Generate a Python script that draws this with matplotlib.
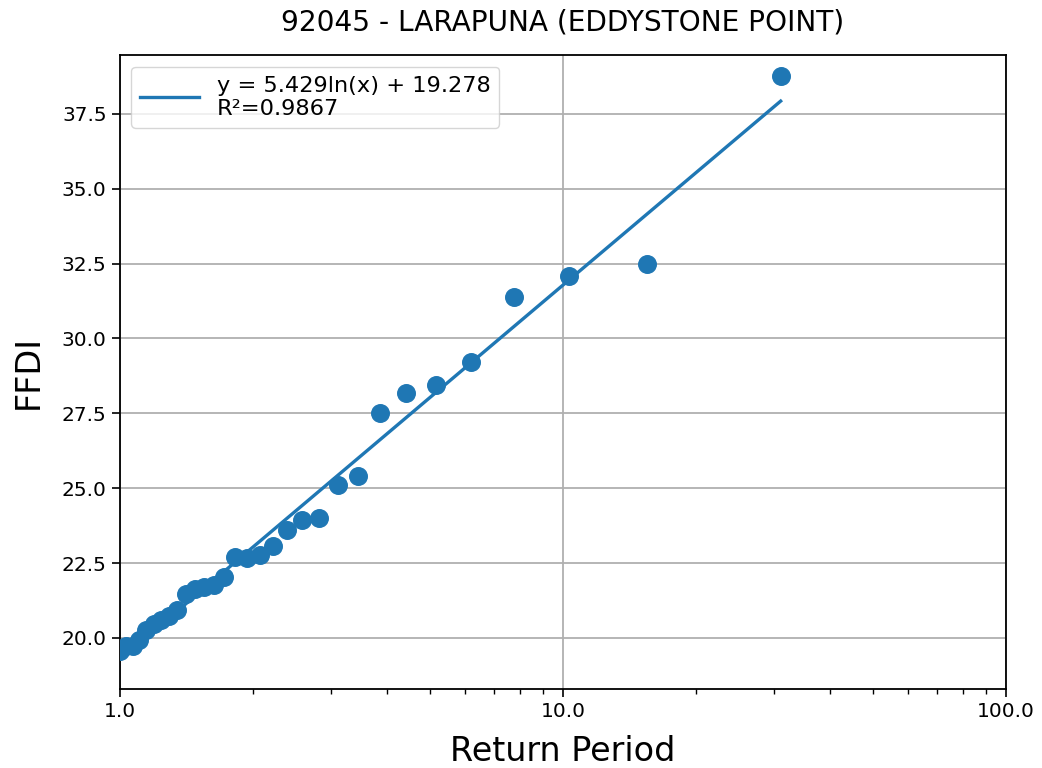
import numpy as np
import matplotlib.pyplot as plt
from matplotlib.ticker import FormatStrFormatter, NullFormatter

# Return periods (n+1)/m for ranked annual maxima, n = 30
rank = np.arange(1, 32)
return_period = 31 / rank

# FFDI values, ranked largest first
ffdi = [38.77, 32.50, 32.07, 31.37, 29.20, 28.43, 28.17, 27.50, 25.40, 25.10,
        24.00, 23.93, 23.60, 23.07, 22.77, 22.67, 22.70, 22.03, 21.77, 21.70,
        21.63, 21.47, 20.93, 20.73, 20.60, 20.47, 20.27, 19.93, 19.73, 19.73,
        19.57]

# Logarithmic trend line coefficients shown in the legend
slope = 5.429
intercept = 19.278
r_squared = 0.9867

title = "92045 - LARAPUNA (EDDYSTONE POINT)"


def main():
    fig = plt.figure(figsize=(10.42, 7.68), dpi=100)
    ax = fig.add_axes([0.115, 0.103, 0.8505, 0.825])

    ax.scatter(return_period, ffdi, s=160, color='#1f77b4', zorder=3)

    fit = slope * np.log(return_period) + intercept
    label = "y = {:.3f}ln(x) + {:.3f}\nR\u00b2={:.4f}".format(slope, intercept, r_squared)
    ax.plot(return_period, fit, color='#1f77b4', linewidth=2.4, label=label, zorder=2)

    ax.set_xscale('log')
    ax.set_xlim(1, 100)
    ax.set_ylim(18.3, 39.45)
    ax.xaxis.set_major_formatter(FormatStrFormatter('%.1f'))
    ax.xaxis.set_minor_formatter(NullFormatter())
    ax.set_yticks([20.0, 22.5, 25.0, 27.5, 30.0, 32.5, 35.0, 37.5])
    ax.yaxis.set_major_formatter(FormatStrFormatter('%.1f'))

    ax.tick_params(axis='both', which='major', labelsize=14.5, length=6, width=1.2)
    ax.tick_params(axis='x', which='minor', length=3.5, width=1.0)
    for spine in ax.spines.values():
        spine.set_linewidth(1.3)

    ax.grid(True, which='major', color='#b0b0b0', linewidth=1.3)
    ax.set_axisbelow(True)

    ax.set_xlabel("Return Period", fontsize=24, labelpad=10)
    ax.set_ylabel("FFDI", fontsize=24, labelpad=12)
    ax.set_title(title, fontsize=20.2, pad=18)
    ax.legend(loc='upper left', fontsize=16.2, handlelength=2.6)

    fig.savefig('out.png', dpi=100)


if __name__ == "__main__":
    main()
